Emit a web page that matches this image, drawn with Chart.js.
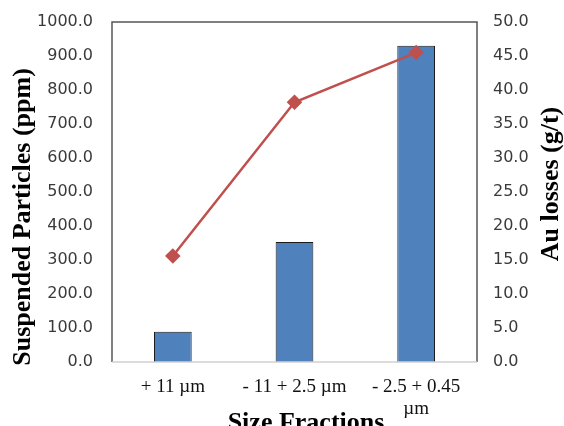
<!DOCTYPE html>
<html>
<head>
<meta charset="utf-8">
<script src="https://cdn.jsdelivr.net/npm/chart.js@4/dist/chart.umd.min.js"></script>
<style>
  html, body { margin: 0; padding: 0; background: #fff; }
  #wrap { width: 564px; height: 426px; }
</style>
</head>
<body>
<div id="wrap"><canvas id="sizeChart" width="564" height="426"></canvas></div>
<script>
// values
const sizeFractions = ["+ 11 \u00b5m", "- 11 + 2.5 \u00b5m", ["- 2.5 + 0.45", "\u00b5m"]];
const suspendedPpm = [89, 353, 930];
const auLosses = [15.6, 38.2, 45.5];

const leftTitle = "Suspended Particles (ppm)";
const rightTitle = "Au losses (g/t)";
const bottomTitle = "Size Fractions";

// frame round the plot + the three axis titles, drawn by hand so they sit where Excel put them
const framePlugin = {
  id: "frame",
  afterDatasetsDraw(chart) {
    const { ctx, chartArea: a } = chart;
    ctx.save();
    ctx.lineWidth = 1.5;
    ctx.strokeStyle = "#555555";
    ctx.beginPath();
    ctx.moveTo(a.left, a.bottom);
    ctx.lineTo(a.left, a.top);
    ctx.lineTo(a.right, a.top);
    ctx.lineTo(a.right, a.bottom);
    ctx.stroke();
    ctx.strokeStyle = "#d0d0d0";
    ctx.beginPath();
    ctx.moveTo(a.left, a.bottom);
    ctx.lineTo(a.right, a.bottom);
    ctx.stroke();

    ctx.fillStyle = "#000";
    ctx.font = "bold 26px 'Liberation Serif'";
    ctx.textAlign = "center";
    ctx.textBaseline = "middle";
    ctx.save();
    ctx.translate(23, 217);
    ctx.rotate(-Math.PI / 2);
    ctx.fillText(leftTitle, 0, 0);
    ctx.restore();
    ctx.save();
    ctx.translate(551, 184);
    ctx.rotate(-Math.PI / 2);
    ctx.fillText(rightTitle, 0, 0);
    ctx.restore();
    ctx.textBaseline = "alphabetic";
    ctx.fillText(bottomTitle, 306, 430);
    ctx.restore();
  }
};

const tickFont = { family: "'DejaVu Sans'", size: 16 };

// no extra room for half tick labels, the plot box is placed by hand
function noPad(scale) {
  scale.paddingTop = 0;
  scale.paddingBottom = 0;
}

new Chart(document.getElementById("sizeChart"), {
  type: "bar",
  data: {
    labels: sizeFractions,
    datasets: [
      {
        type: "line",
        label: "Au losses",
        data: auLosses,
        yAxisID: "yRight",
        borderColor: "#C0504D",
        backgroundColor: "#C0504D",
        borderWidth: 2.5,
        pointStyle: "rectRot",
        pointRadius: 6,
        pointHoverRadius: 6,
        tension: 0,
        order: 0
      },
      {
        label: "Suspended particles",
        data: suspendedPpm,
        yAxisID: "y",
        backgroundColor: "#4F81BD",
        borderColor: "#1a1a1a",
        borderWidth: 1,
        barPercentage: 0.31,
        categoryPercentage: 1,
        order: 1
      }
    ]
  },
  options: {
    responsive: false,
    animation: false,
    layout: { padding: { top: 22, left: 0, right: 0, bottom: 0 } },
    plugins: { legend: { display: false }, tooltip: { enabled: false } },
    scales: {
      x: {
        grid: { display: false, drawTicks: false },
        border: { display: false },
        ticks: {
          color: "#111",
          font: { family: "'Liberation Serif'", size: 19, lineHeight: 1.15 },
          padding: 14,
          maxRotation: 0,
          autoSkip: false
        },
        afterFit(scale) { scale.height = 64; }
      },
      y: {
        position: "left",
        min: 0,
        max: 1000,
        grid: { display: false, drawTicks: false },
        border: { display: false },
        ticks: {
          stepSize: 100,
          color: "#3a3a3a",
          font: tickFont,
          padding: 19,
          callback: v => v.toFixed(1)
        },
        afterFit(scale) { scale.width = 112; noPad(scale); }
      },
      yRight: {
        position: "right",
        min: 0,
        max: 50,
        grid: { display: false, drawTicks: false },
        border: { display: false },
        ticks: {
          stepSize: 5,
          color: "#3a3a3a",
          font: tickFont,
          padding: 16,
          callback: v => v.toFixed(1)
        },
        afterFit(scale) { scale.width = 87; noPad(scale); }
      }
    }
  },
  plugins: [framePlugin]
});
</script>
</body>
</html>
